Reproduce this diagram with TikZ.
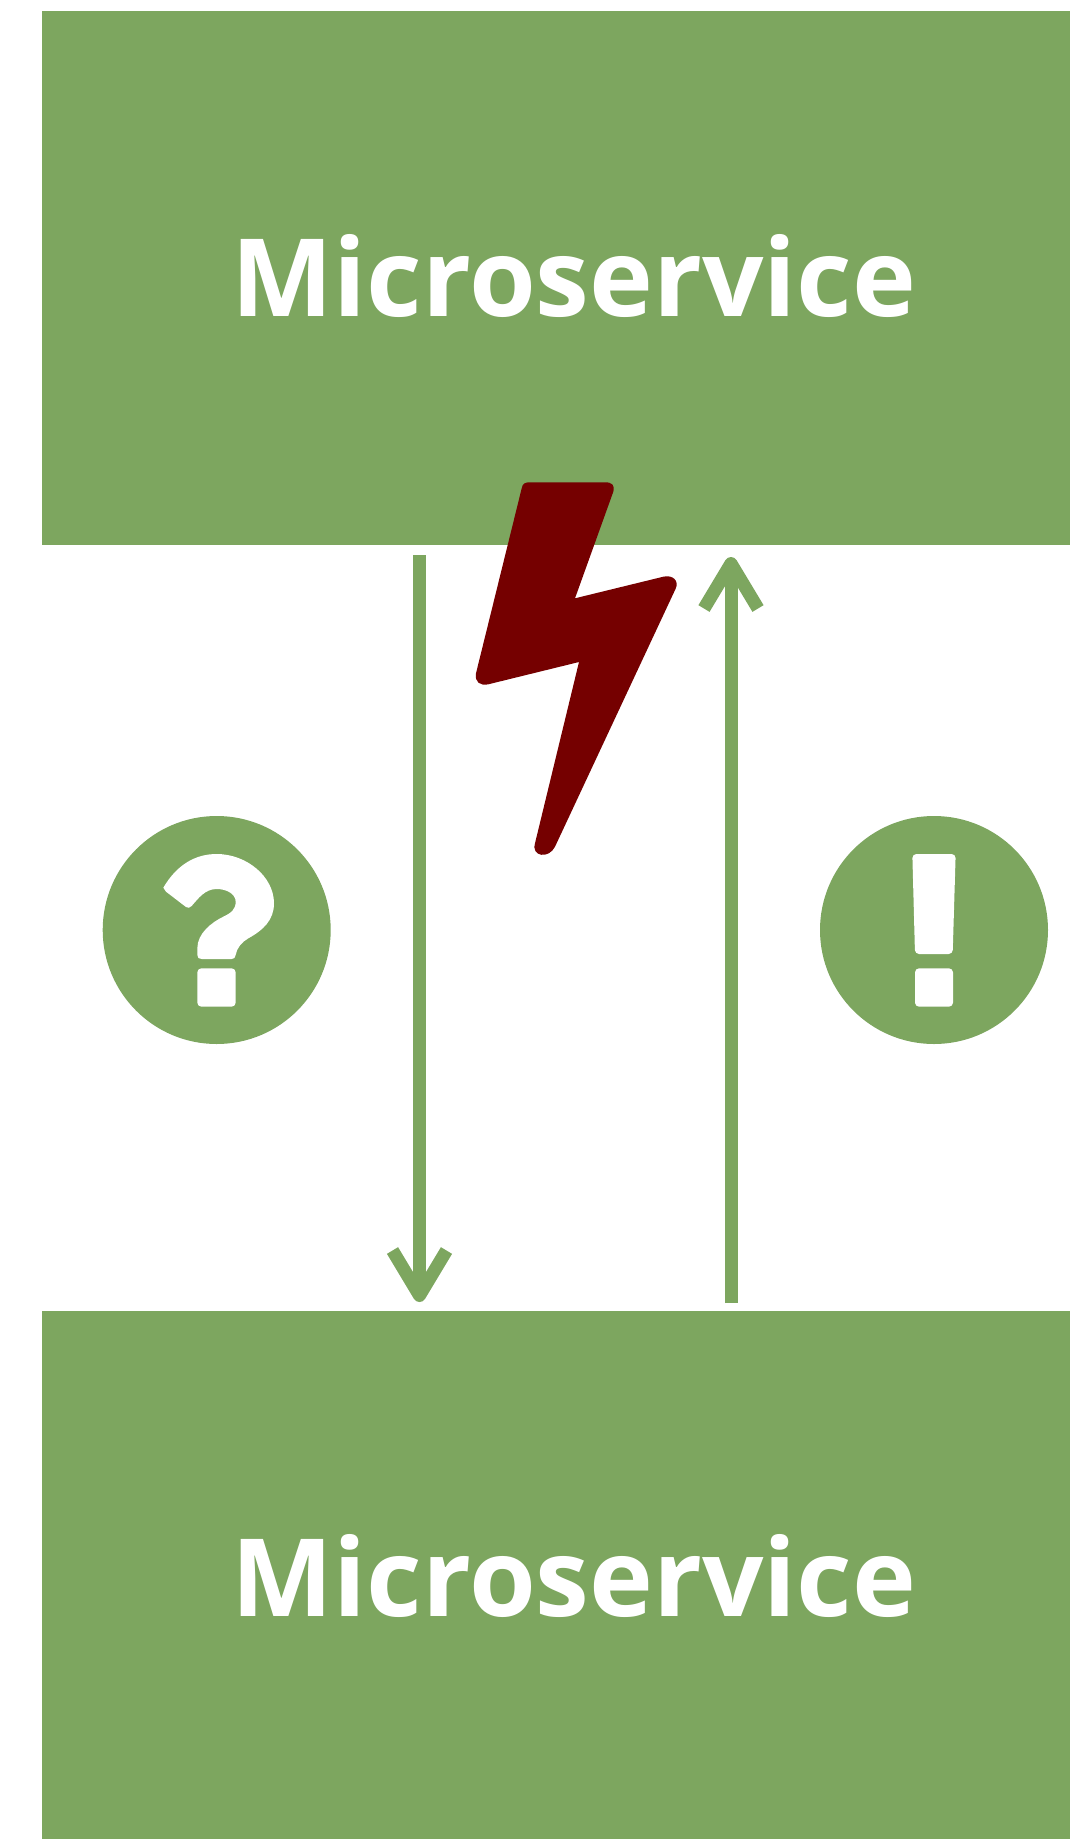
\documentclass[tikz,border=0pt]{standalone}
\usepackage{fontspec}
\setmainfont{Open Sans}
\usepackage{xcolor}
\usetikzlibrary{arrows.meta}
\definecolor{svcgreen}{RGB}{125,166,95}
\definecolor{boltred}{RGB}{117,0,0}
\tikzset{
  svcbox/.style={fill=svcgreen,minimum width=1064pt,minimum height=534pt,inner sep=0pt,text=white,text height=76pt,text depth=0pt,font=\fontsize{108}{108}\selectfont\bfseries},
  iconcircle/.style={circle,fill=svcgreen,minimum size=228pt,inner sep=0pt},
  flowline/.style={draw=svcgreen,line width=13pt,-{Straight Barb[length=45pt,width=54pt,line cap=butt,line join=round]}},
}
\begin{document}
\begin{tikzpicture}[x=1pt,y=-1pt]
\useasboundingbox(0,0)rectangle(1070,1839);
\node[svcbox](topsvc)at(574,278){Microservice};
\node[svcbox](botsvc)at(574,1578){Microservice};
\node[iconcircle](askcircle)at(216.7,930){};
\node[iconcircle](replycircle)at(934,930){};
\coordinate(reqstart)at(419.5,555);\coordinate(reqend)at(419.5,1302);
\coordinate(repstart)at(731,1303);\coordinate(repend)at(731,557);
\draw[flowline](reqstart)--(reqend);
\draw[flowline](repstart)--(repend);
% lightning bolt
\fill[boltred](521.7,488.3)..controls(522.3,484)and(525,482.3)..(529,482.3)--(605,482.3)
  ..controls(612,482.3)and(615,485)..(613.3,491.7)--(575,598.3)--(663.3,576.7)
  ..controls(673,574.5)and(679.5,581)..(675.5,589)--(555,846.7)
  ..controls(549,859)and(531,857)..(535,843.3)--(579,662)--(488.3,684.3)
  ..controls(480,686)and(474.5,682)..(476,673.3)--cycle;
% question mark
\begin{scope}[shift={(80,790)},scale=1/3]
\fill[white](250,293)..controls(290,225)and(345,192)..(410,192)
  ..controls(500,192)and(582,260)..(582,340)..controls(582,390)and(550,420)..(505,445)
  ..controls(485,456)and(470,475)..(467,495)..controls(466,503)and(462,507)..(455,507)
  --(365,507)..controls(356,507)and(352,503)..(352,495)--(352,475)
  ..controls(352,430)and(395,397)..(430,380)..controls(455,368)and(467,358)..(467,335)
  ..controls(467,312)and(440,297)..(410,297)..controls(375,297)and(355,325)..(335,348)
  ..controls(330,354)and(323,355)..(318,351)--(258,305)--cycle;
\fill[white,rounded corners=4pt](352,535)rectangle(467,650);
\end{scope}
% exclamation mark
\begin{scope}[shift={(800,790)},scale=1/3]
\fill[white,rounded corners=4pt](337,192)--(467,192)--(458,492)--(345,492)--cycle;
\fill[white,rounded corners=4pt](345,535)rectangle(459,650);
\end{scope}
\end{tikzpicture}
\end{document}
